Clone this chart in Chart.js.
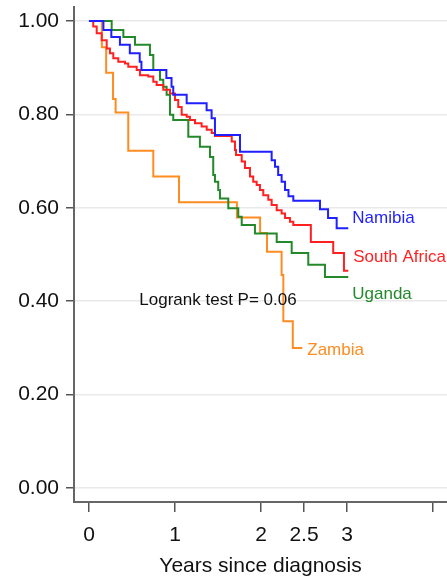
<!DOCTYPE html>
<html>
<head>
<meta charset="utf-8">
<script src="https://cdn.jsdelivr.net/npm/chart.js@4/dist/chart.umd.min.js"></script>
<style>
  html, body { margin: 0; padding: 0; background: #fff; }
  #wrap { width: 447px; height: 580px; position: relative; }
</style>
</head>
<body>
<div id="wrap"><canvas id="km"></canvas></div>
<script>
// Kaplan-Meier survival by country
const namibiaT = [0, 0.168, 0.26, 0.36, 0.475, 0.59, 0.61, 0.90, 0.96, 0.98, 1.136, 1.368, 1.426, 1.465, 1.756, 2.124, 2.163, 2.20, 2.24, 2.28, 2.32, 2.376, 2.686, 2.78, 2.88, 3.015];
const namibiaS = [1, 0.981, 0.966, 0.949, 0.931, 0.913, 0.895, 0.878, 0.859, 0.842, 0.824, 0.809, 0.792, 0.756, 0.720, 0.702, 0.688, 0.670, 0.656, 0.638, 0.625, 0.615, 0.597, 0.578, 0.556, 0.556];

const southAfricaT = [0, 0.05, 0.09, 0.148, 0.206, 0.244, 0.283, 0.341, 0.419, 0.457, 0.555, 0.593, 0.69, 0.748, 0.787, 0.864, 0.942, 1.0, 1.038, 1.078, 1.136, 1.174, 1.233, 1.31, 1.369, 1.427, 1.465, 1.66, 1.698, 1.71, 1.776, 1.814, 1.872, 1.91, 1.95, 1.988, 2.027, 2.085, 2.124, 2.183, 2.24, 2.28, 2.337, 2.376, 2.58, 2.84, 2.965, 3.015];
const southAfricaS = [1, 0.988, 0.974, 0.959, 0.941, 0.931, 0.920, 0.913, 0.909, 0.902, 0.895, 0.884, 0.881, 0.870, 0.863, 0.853, 0.845, 0.831, 0.816, 0.799, 0.795, 0.788, 0.781, 0.774, 0.767, 0.760, 0.754, 0.742, 0.724, 0.713, 0.699, 0.685, 0.667, 0.656, 0.649, 0.638, 0.627, 0.617, 0.606, 0.595, 0.588, 0.578, 0.570, 0.563, 0.527, 0.503, 0.465, 0.465];

const ugandaT = [0, 0.264, 0.40, 0.535, 0.709, 0.748, 0.826, 0.864, 0.903, 0.942, 0.98, 1.155, 1.29, 1.407, 1.445, 1.465, 1.503, 1.523, 1.62, 1.736, 1.776, 1.93, 2.183, 2.357, 2.55, 2.744, 3.015];
const ugandaS = [1, 0.981, 0.966, 0.949, 0.927, 0.895, 0.874, 0.859, 0.842, 0.799, 0.788, 0.752, 0.731, 0.709, 0.670, 0.656, 0.638, 0.620, 0.599, 0.581, 0.563, 0.545, 0.527, 0.503, 0.478, 0.452, 0.452];

const zambiaT = [0, 0.15, 0.20, 0.28, 0.31, 0.457, 0.748, 1.047, 1.72, 1.99, 2.07, 2.24, 2.26, 2.37, 2.48];
const zambiaS = [1, 0.944, 0.889, 0.833, 0.804, 0.722, 0.667, 0.612, 0.579, 0.546, 0.506, 0.456, 0.357, 0.300, 0.300];

const countries = ['Namibia', 'South Africa', 'Uganda', 'Zambia'];
const xTicks = [0, 1, 2, 2.5, 3, 4];
const yTicks = [0, 0.2, 0.4, 0.6, 0.8, 1.0];
const logrankText = 'Logrank test P= 0.06';

const FONT = "'Liberation Sans', Arial, Helvetica, sans-serif";
const colors = ['#1f1fff', '#ff2121', '#23892a', '#ff8c21'];
// label offsets from each curve's last point (px)
const labelOffsets = [[4, -10], [5, -14], [4, 17], [5, 2]];

const series = [[namibiaT, namibiaS], [southAfricaT, southAfricaS], [ugandaT, ugandaS], [zambiaT, zambiaS]];
const toPoints = (t, s) => t.map((v, i) => ({ x: v, y: s[i] }));

const curveLabels = {
    id: 'curveLabels',
    afterDatasetsDraw(chart) {
        const ctx = chart.ctx;
        ctx.save();
        ctx.textBaseline = 'middle';
        chart.data.datasets.forEach((ds, i) => {
            const pts = chart.getDatasetMeta(i).data;
            const last = pts[pts.length - 1];
            ctx.fillStyle = colors[i];
            ctx.font = '17px ' + FONT;
            ctx.textAlign = 'left';
            ctx.fillText(ds.label, last.x + labelOffsets[i][0], last.y + labelOffsets[i][1]);
        });
        const { x, y } = chart.scales;
        ctx.fillStyle = '#111';
        ctx.font = '17px ' + FONT;
        ctx.textAlign = 'center';
        ctx.fillText(logrankText, x.getPixelForValue(1.5), y.getPixelForValue(0.4026));
        ctx.restore();
    }
};

new Chart(document.getElementById('km'), {
    type: 'scatter',
    data: {
        datasets: series.map((s, i) => ({
            label: countries[i], data: toPoints(s[0], s[1]), showLine: true, stepped: 'before',
            borderColor: colors[i], borderWidth: 2, pointRadius: 0, fill: false
        }))
    },
    options: {
        responsive: true, maintainAspectRatio: false, animation: false,
        layout: { padding: { top: 7, left: 0, right: 0, bottom: 0 } },
        plugins: { legend: { display: false }, tooltip: { enabled: false } },
        scales: {
            x: {
                type: 'linear', min: -0.174, max: 4.163,
                afterBuildTicks: s => { s.ticks = xTicks.map(v => ({ value: v })); },
                afterFit: s => { s.height = 78; s.paddingLeft = 0; s.paddingRight = 0; },
                ticks: { color: '#111', font: { size: 21, family: FONT }, padding: 11, maxRotation: 0,
                    callback: v => (v === 4 ? '' : String(v)) },
                grid: { drawOnChartArea: false, tickLength: 10, tickColor: '#555', lineWidth: 1.5 },
                border: { color: '#666', width: 2 },
                title: { display: true, text: 'Years since diagnosis', color: '#111',
                    font: { size: 21, family: FONT }, padding: { top: 4, bottom: 1 } }
            },
            y: {
                min: -0.03, max: 1.03,
                afterBuildTicks: s => { s.ticks = yTicks.map(v => ({ value: v })); },
                afterFit: s => { s.width = 74; s.paddingTop = 0; s.paddingBottom = 0; },
                ticks: { color: '#111', font: { size: 21, family: FONT }, padding: 7,
                    callback: v => v.toFixed(2) },
                grid: { color: '#e9e9e9', lineWidth: 1.5, tickLength: 8, tickColor: '#555' },
                border: { color: '#666', width: 2 }
            }
        }
    },
    plugins: [curveLabels]
});
</script>
</body>
</html>
